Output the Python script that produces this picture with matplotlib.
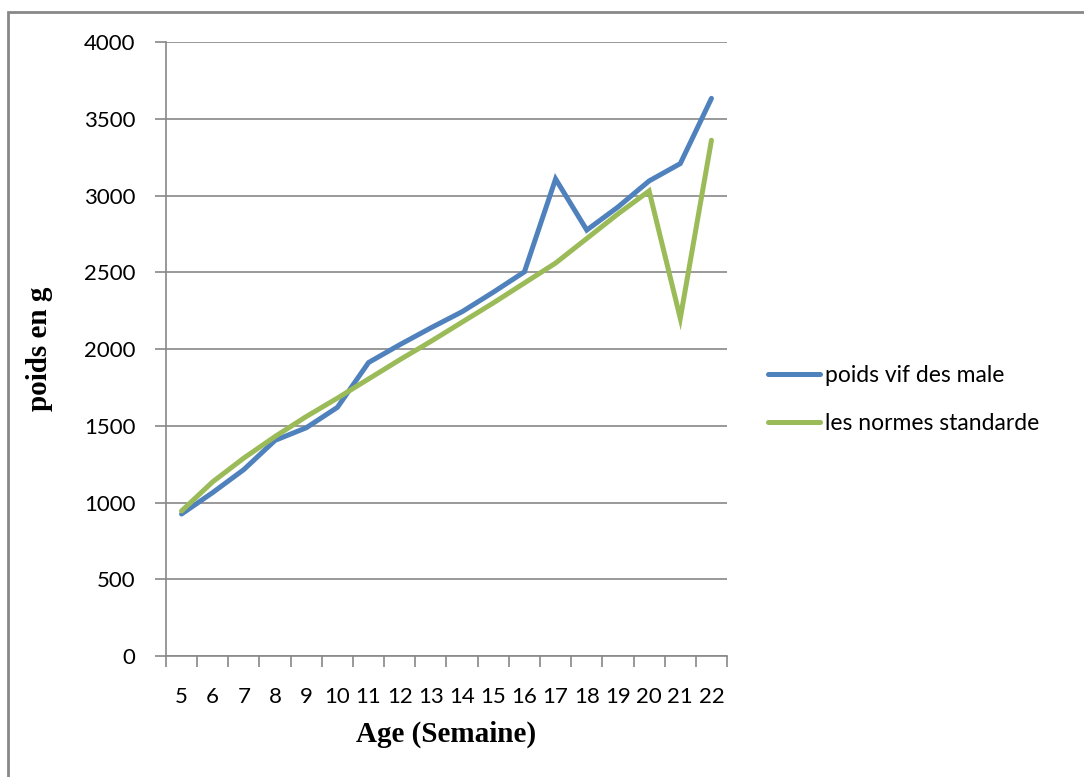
import numpy as np
import matplotlib.pyplot as plt
from matplotlib.patches import Rectangle

# weekly live weight of males vs the standard curve
weeks = [5, 6, 7, 8, 9, 10, 11, 12, 13, 14, 15, 16, 17, 18, 19, 20, 21, 22]
poids_male = [925, 1065, 1215, 1405, 1487, 1620, 1912, 2028, 2138, 2243, 2370, 2503,
              3108, 2775, 2925, 3095, 3208, 3633]
normes = [945, 1135, 1290, 1430, 1560, 1680, 1805, 1930, 2050, 2175, 2300, 2430,
          2560, 2720, 2880, 3030, 2200, 3360]
yticks = [0, 500, 1000, 1500, 2000, 2500, 3000, 3500, 4000]

BLUE = '#4F81BD'
GREEN = '#9BBB59'
GRID = '#888888'
tick_font = 'Lato'
title_font = 'Liberation Serif'


def main():
    fig = plt.figure(figsize=(10.84, 7.77), dpi=100)
    ax = fig.add_axes([0.1531, 0.1557, 0.5176, 0.7902])

    # outer frame of the chart area
    fig.patches.append(Rectangle((0.0075, -0.05), 1.1, 1.035, transform=fig.transFigure,
                                 fill=False, edgecolor=GRID, linewidth=2))

    x = np.arange(len(weeks))
    ax.plot(x, poids_male, color=BLUE, lw=3.6, solid_capstyle='round',
            solid_joinstyle='miter', label='poids vif des male')
    ax.plot(x, normes, color=GREEN, lw=3.6, solid_capstyle='round',
            solid_joinstyle='miter', label='les normes standarde')

    ax.set_xlim(-0.5, len(weeks) - 0.5)
    ax.set_ylim(0, 4000)
    ax.set_yticks(yticks)
    ax.set_yticklabels([str(v) for v in yticks], fontsize=16, family=tick_font)
    ax.yaxis.grid(True, color=GRID, lw=1.2)
    ax.set_axisbelow(True)

    # category labels in the middle, ticks on the boundaries
    ax.set_xticks(np.arange(len(weeks) + 1) - 0.5)
    ax.set_xticklabels([])
    ax.set_xticks(x, minor=True)
    ax.set_xticklabels([str(w) for w in weeks], minor=True, fontsize=16, family=tick_font)
    ax.tick_params(axis='x', which='minor', length=0, pad=22)
    ax.tick_params(axis='x', which='major', length=8, color=GRID, width=1.2)
    ax.tick_params(axis='y', length=8, color=GRID, width=1.2, pad=14)

    for s in ['top', 'right']:
        ax.spines[s].set_visible(False)
    for s in ['left', 'bottom']:
        ax.spines[s].set_color(GRID)
        ax.spines[s].set_linewidth(1.2)

    ax.set_xlabel('Age (Semaine)', fontsize=21, fontweight='bold', family=title_font,
                  labelpad=10)
    ax.set_ylabel('poids en g', fontsize=21, fontweight='bold', family=title_font,
                  labelpad=22)

    leg = ax.legend(loc='center left', bbox_to_anchor=(0.689, 0.486),
                    bbox_transform=fig.transFigure, frameon=False,
                    prop={'family': tick_font, 'size': 16.5}, handlelength=2.3,
                    handletextpad=0.22, labelspacing=1.2)
    for line in leg.get_lines():
        line.set_linewidth(3.6)

    fig.savefig('out.png', dpi=100, facecolor='white')


if __name__ == '__main__':
    main()
